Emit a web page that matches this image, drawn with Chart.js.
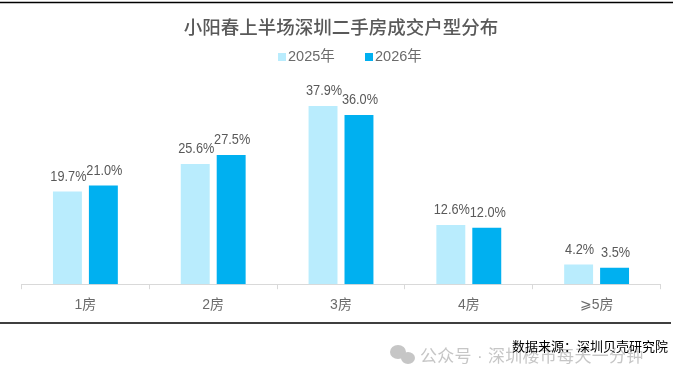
<!DOCTYPE html>
<html>
<head>
<meta charset="utf-8">
<style>
  html, body { margin: 0; padding: 0; background: #fff; }
  #chartBox { position: relative; width: 673px; height: 387px; }
</style>
<script src="https://cdn.jsdelivr.net/npm/chart.js@4/dist/chart.umd.min.js"></script>
</head>
<body>
<div id="chartBox"><canvas id="roomChart"></canvas></div>
<script>
const categories = ["1房", "2房", "3房", "4房", "⩾5房"];
const values2025 = [19.7, 25.6, 37.9, 12.6, 4.2];
const values2026 = [21.0, 27.5, 36.0, 12.0, 3.5];
const seriesNames = ["2025年", "2026年"];
const seriesColors = ["#B9ECFD", "#00B0F0"];
const titleText = "小阳春上半场深圳二手房成交户型分布";
const sourceText = "数据来源：深圳贝壳研究院";
const watermarkText = "公众号 · 深圳楼市每天一分钟";

const FONT = '"Liberation Sans", "Noto Sans CJK SC", sans-serif';

// value labels above the bars, squeezed a bit like the original
const barLabels = {
    id: "barLabels",
    afterDatasetsDraw(chart) {
        const ctx = chart.ctx;
        ctx.save();
        ctx.fillStyle = "#595959";
        ctx.font = "15px " + FONT;
        ctx.textAlign = "center";
        ctx.textBaseline = "middle";
        chart.data.datasets.forEach((ds, i) => {
            chart.getDatasetMeta(i).data.forEach((bar, j) => {
                const text = ds.data[j].toFixed(1) + "%";
                ctx.fillText(text, bar.x + 1, bar.y - 15, ctx.measureText(text).width * 0.85);
            });
        });
        ctx.restore();
    }
};

// legend, rules, source note and watermark
const pageParts = {
    id: "pageParts",
    afterDraw(chart) {
        const ctx = chart.ctx;
        ctx.save();

        ctx.strokeStyle = "#000";
        ctx.lineWidth = 1.5;
        ctx.beginPath();
        ctx.moveTo(0, 2.5);
        ctx.lineTo(673, 2.5);
        ctx.moveTo(0, 323);
        ctx.lineTo(671, 323);
        ctx.stroke();

        ctx.font = "14.5px " + FONT;
        ctx.textBaseline = "middle";
        ctx.textAlign = "left";
        const legendX = [278, 365];
        chart.data.datasets.forEach((ds, i) => {
            ctx.fillStyle = ds.backgroundColor;
            ctx.fillRect(legendX[i], 53, 8, 8);
            ctx.fillStyle = "#6b6b6b";
            ctx.fillText(ds.label, legendX[i] + 10, 57);
        });

        // watermark
        ctx.fillStyle = "#c6c6c6";
        ctx.beginPath();
        ctx.ellipse(398, 352, 8, 7, 0, 0, Math.PI * 2);
        ctx.fill();
        ctx.beginPath();
        ctx.ellipse(408, 358, 7, 6, 0, 0, Math.PI * 2);
        ctx.fill();
        ctx.font = "17px " + FONT;
        ctx.letterSpacing = "0.3px";
        ctx.fillText(watermarkText, 420, 357);
        ctx.letterSpacing = "0px";

        ctx.fillStyle = "#000";
        ctx.font = "13px " + FONT;
        ctx.textAlign = "right";
        ctx.fillText(sourceText, 668, 347);
        ctx.restore();
    }
};

new Chart(document.getElementById("roomChart"), {
    type: "bar",
    data: {
        labels: categories,
        datasets: [
            { label: seriesNames[0], data: values2025, backgroundColor: seriesColors[0] },
            { label: seriesNames[1], data: values2026, backgroundColor: seriesColors[1] }
        ]
    },
    options: {
        responsive: true,
        maintainAspectRatio: false,
        animation: false,
        categoryPercentage: 0.5625,
        barPercentage: 0.805,
        layout: { padding: { left: 21.5, right: 12.5, top: 18, bottom: 65 } },
        plugins: {
            legend: { display: false },
            tooltip: { enabled: false },
            title: {
                display: true,
                text: titleText,
                color: "#595959",
                font: { family: FONT, size: 18.5, weight: "500" },
                padding: { top: 0, bottom: 9 }
            }
        },
        scales: {
            x: {
                grid: { display: true, drawOnChartArea: false, color: "#d9d9d9", tickLength: 5, offset: true },
                border: { color: "#d9d9d9" },
                ticks: { color: "#6b6b6b", font: { family: FONT, size: 14 }, padding: 8, maxRotation: 0 }
            },
            y: {
                display: false,
                min: 0,
                max: 50
            }
        }
    },
    plugins: [barLabels, pageParts]
});
</script>
</body>
</html>
